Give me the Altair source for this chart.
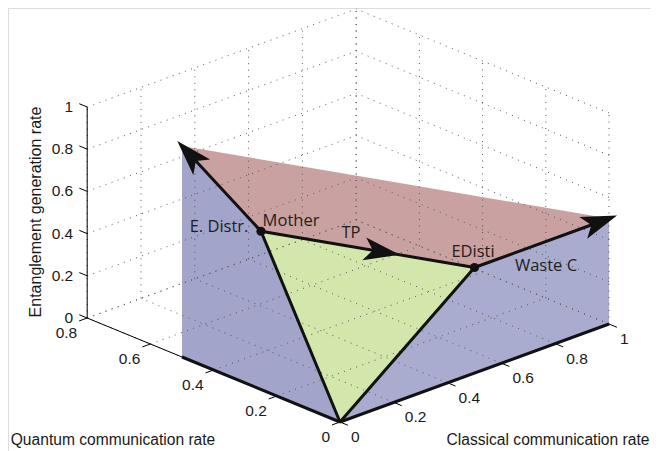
import math
import altair as alt
import pandas as pd

# ---------------- data ----------------
C_TICKS = [0, 0.2, 0.4, 0.6, 0.8, 1]
Q_TICKS = [0, 0.2, 0.4, 0.6, 0.8]
E_TICKS = [0, 0.2, 0.4, 0.6, 0.8, 1]
C_MAX = 1.0
Q_MAX = 0.8
E_MAX = 1.0

# corner points of the region, as (classical, quantum, entanglement) rates
POINT_NAMES = ["origin", "Q end", "C end", "Mother", "EDisti", "E. Distr. end", "Waste C end"]
POINT_C = [0, 0, 1, 0, 0.5, 0, 1]
POINT_Q = [0, 0.5, 0, 0.25, 0, 0.5, 0]
POINT_E = [0, 0, 0, 0.75, 0.5, 1, 0.5]

FACE_NAMES = ["top", "left", "right", "front"]
FACE_VERTICES = [
    ["Mother", "E. Distr. end", "Waste C end", "EDisti"],
    ["origin", "Q end", "E. Distr. end", "Mother"],
    ["origin", "C end", "Waste C end", "EDisti"],
    ["origin", "Mother", "EDisti"],
]
FACE_COLORS = ["#c9a1a1", "#a2a4c9", "#a9abcf", "#d3e7ac"]

EDGES = [
    ("origin", "Q end"), ("origin", "C end"), ("origin", "Mother"),
    ("origin", "EDisti"), ("Mother", "EDisti"), ("Mother", "E. Distr. end"),
    ("EDisti", "Waste C end"),
]
ARROWS = [("Mother", "E. Distr. end", 1.06), ("Mother", "EDisti", 0.65), ("EDisti", "Waste C end", 1.06)]
DOTS = ["Mother", "EDisti"]

LABEL_TEXT = ["E. Distr.", "Mother", "TP", "EDisti", "Waste C"]
LABEL_ANCHOR = ["Mother", "Mother", "Mother", "EDisti", "EDisti"]
LABEL_DX = [-42, 30, 90, -1.5, 71.5]
LABEL_DY = [-4, -10, 1.5, -16, -1.5]

# ---------------- camera (orthographic, pixels per unit) ----------------
PROJ_U = (269.0, -316.0, 0.0)
PROJ_V = (98.0, 130.0, 211.0)


def proj(c, q, e):
    return (PROJ_U[0] * c + PROJ_U[1] * q + PROJ_U[2] * e,
            PROJ_V[0] * c + PROJ_V[1] * q + PROJ_V[2] * e)


def P(name):
    i = POINT_NAMES.index(name)
    return proj(POINT_C[i], POINT_Q[i], POINT_E[i])


def P3(name):
    i = POINT_NAMES.index(name)
    return (POINT_C[i], POINT_Q[i], POINT_E[i])


def seg_df(segs):
    rows = []
    for sid, (a, b) in enumerate(segs):
        for k, p in enumerate((a, b)):
            u, v = proj(*p)
            rows.append({"seg": sid, "k": k, "u": u, "v": v})
    return pd.DataFrame(rows)


W, H = 643, 443
xs = alt.Scale(domain=[-332, 311], nice=False, zero=False)
ys = alt.Scale(domain=[-29, 414], nice=False, zero=False)
X = alt.X("u:Q", scale=xs, axis=None)
Y = alt.Y("v:Q", scale=ys, axis=None)

# faces
rows = []
for name, verts in zip(FACE_NAMES, FACE_VERTICES):
    for k, vn in enumerate(verts):
        u, v = P(vn)
        rows.append({"face": name, "k": k, "u": u, "v": v})
faces_df = pd.DataFrame(rows)
faces = alt.Chart(faces_df).mark_line(filled=True, strokeWidth=0).encode(
    x=X, y=Y, order="k:Q", detail="face:N",
    color=alt.Color("face:N", scale=alt.Scale(domain=FACE_NAMES, range=FACE_COLORS), legend=None),
)

# grid
grid_segs = []
for c in C_TICKS:
    grid_segs.append(((c, 0, 0), (c, Q_MAX, 0)))
    grid_segs.append(((c, Q_MAX, 0), (c, Q_MAX, E_MAX)))
for q in Q_TICKS:
    grid_segs.append(((0, q, 0), (C_MAX, q, 0)))
    grid_segs.append(((C_MAX, q, 0), (C_MAX, q, E_MAX)))
for e in E_TICKS:
    grid_segs.append(((0, Q_MAX, e), (C_MAX, Q_MAX, e)))
    grid_segs.append(((C_MAX, 0, e), (C_MAX, Q_MAX, e)))
grid = alt.Chart(seg_df(grid_segs)).mark_line(
    color="#555555", strokeWidth=1, strokeDash=[1, 5.5]
).encode(x=X, y=Y, order="k:Q", detail="seg:N")

# axes and ticks
axis_segs = [((0, 0, 0), (C_MAX, 0, 0)), ((0, 0, 0), (0, Q_MAX, 0)), ((0, Q_MAX, 0), (0, Q_MAX, E_MAX))]
axis_segs += [((c, 0, 0), (c, -0.025, 0)) for c in C_TICKS]
axis_segs += [((0, q, 0), (-0.03, q, 0)) for q in Q_TICKS]
axis_segs += [((0, Q_MAX, e), (0, Q_MAX + 0.025, e)) for e in E_TICKS]
axes = alt.Chart(seg_df(axis_segs)).mark_line(color="#000000", strokeWidth=1).encode(
    x=X, y=Y, order="k:Q", detail="seg:N")

# thick edges
edges = alt.Chart(seg_df([(P3(a), P3(b)) for a, b in EDGES])).mark_line(
    color="#111111", strokeWidth=3).encode(x=X, y=Y, order="k:Q", detail="seg:N")

# arrowheads
arows = []
for a, b, f in ARROWS:
    ua, va = P(a)
    ub, vb = P(b)
    du, dv = ub - ua, vb - va
    ang = math.degrees(math.atan2(du, dv)) % 360
    arows.append({"u": ua + f * du, "v": va + f * dv, "ang": ang})
arrow_shape = "M0,0 L0.32,1 L0,0.76 L-0.32,1 Z"
heads = alt.Chart(pd.DataFrame(arows)).mark_point(
    shape=arrow_shape, filled=True, color="#111111", size=5184, opacity=1, strokeWidth=0
).encode(x=X, y=Y, angle=alt.Angle("ang:Q", scale=None))

# dots
dots = alt.Chart(pd.DataFrame([{"u": P(n)[0], "v": P(n)[1]} for n in DOTS])).mark_circle(
    color="#111111", size=85, opacity=1).encode(x=X, y=Y)

# annotation labels
lrows = []
for t, an, dx, dy in zip(LABEL_TEXT, LABEL_ANCHOR, LABEL_DX, LABEL_DY):
    u, v = P(an)
    lrows.append({"t": t, "u": u + dx, "v": v - dy})
labels = alt.Chart(pd.DataFrame(lrows)).mark_text(
    font="Open Sans", fontSize=16.5, color="#231f20", baseline="middle", align="center"
).encode(x=X, y=Y, text="t:N")


# tick labels
def tick_df(pts, texts):
    return pd.DataFrame([{"u": proj(*p)[0], "v": proj(*p)[1], "t": s} for p, s in zip(pts, texts)])


def fmt(x):
    return "%g" % x


tl_font = dict(font="Liberation Sans", fontSize=15.5, color="#1a1a1a", baseline="middle")
ztl = alt.Chart(tick_df([(0, Q_MAX, e) for e in E_TICKS], [fmt(e) for e in E_TICKS])).mark_text(
    align="right", dx=-14, dy=0, **tl_font).encode(x=X, y=Y, text="t:N")
qtl = alt.Chart(tick_df([(0, q, 0) for q in Q_TICKS], [fmt(q) for q in Q_TICKS])).mark_text(
    align="right", dx=-10, dy=15, **tl_font).encode(x=X, y=Y, text="t:N")
ctl = alt.Chart(tick_df([(c, 0, 0) for c in C_TICKS], [fmt(c) for c in C_TICKS])).mark_text(
    align="left", dx=11, dy=15, **tl_font).encode(x=X, y=Y, text="t:N")

# axis titles
TITLE_TEXT = ["Quantum communication rate", "Classical communication rate"]
TITLE_U = [113 - 340, 548 - 340]
TITLE_V = [422 - 440, 422 - 440]
titles = alt.Chart(pd.DataFrame({"t": TITLE_TEXT, "u": TITLE_U, "v": TITLE_V})).mark_text(
    font="Liberation Sans", fontSize=15.6, color="#1a1a1a", baseline="middle", align="center"
).encode(x=X, y=Y, text="t:N")
ztitle = alt.Chart(pd.DataFrame({"t": ["Entanglement generation rate"], "u": [36 - 340], "v": [422 - 212]})).mark_text(
    font="Liberation Sans", fontSize=16, color="#1a1a1a", baseline="middle", align="center", angle=270
).encode(x=X, y=Y, text="t:N")

chart = alt.layer(
    faces, grid, axes, edges, heads, dots, labels, ztl, qtl, ctl, titles, ztitle
).properties(
    width=W, height=H, padding=0, autosize=alt.AutoSizeParams(type="none")
).configure_view(strokeWidth=0).configure(background="white")

chart.save("out.html", embed_options={"renderer": "svg", "actions": False})
